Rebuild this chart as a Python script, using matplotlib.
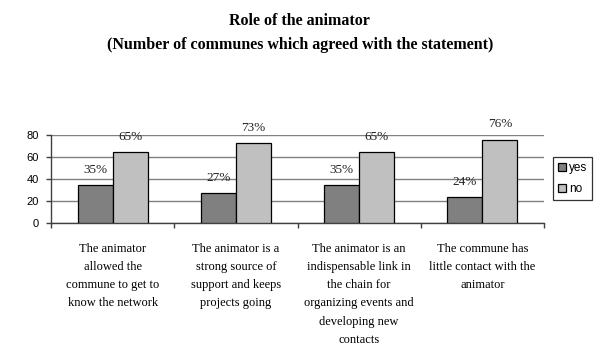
import matplotlib.pyplot as plt
import numpy as np

# statements and share of communes answering yes / no (in %)
categories = ['The animator\nallowed the\ncommune to get to\nknow the network',
              'The animator is a\nstrong source of\nsupport and keeps\nprojects going',
              'The animator is an\nindispensable link in\nthe chain for\norganizing events and\ndeveloping new\ncontacts',
              'The commune has\nlittle contact with the\nanimator']
yes_vals = [35, 27, 35, 24]
no_vals = [65, 73, 65, 76]
y_ticks = [0, 20, 40, 60, 80]

serif = ['Liberation Serif', 'DejaVu Serif']
sans = ['Liberation Sans', 'DejaVu Sans']

fig = plt.figure(figsize=(5.96, 3.47), dpi=100)
ax = fig.add_axes([0.0856, 0.357, 0.8272, 0.2536])

x = np.arange(len(categories))
w = 0.284
b1 = ax.bar(x - w / 2, yes_vals, w, color='#808080', edgecolor='black', linewidth=0.9, label='yes', zorder=3)
b2 = ax.bar(x + w / 2, no_vals, w, color='#c0c0c0', edgecolor='black', linewidth=0.9, label='no', zorder=3)

# percent labels above each bar
for bars in (b1, b2):
    for r in bars:
        ax.annotate('%d%%' % r.get_height(), (r.get_x() + r.get_width() / 2, r.get_height()),
                    xytext=(0, 6.5), textcoords='offset points', ha='center', va='bottom',
                    fontsize=9.5, family=serif, color='#222222')

ax.set_xlim(-0.5, len(categories) - 0.5)
ax.set_ylim(0, 80)
ax.set_yticks(y_ticks)
ax.yaxis.grid(True, color='#808080', linewidth=1, zorder=0)
ax.set_axisbelow(True)

ax.set_xticks(x)
ax.set_xticklabels(categories, family=serif, fontsize=9, linespacing=1.7, va='top')
ax.set_xticks(np.arange(len(categories) + 1) - 0.5, minor=True)
ax.tick_params(axis='x', which='major', length=0, pad=14)
ax.tick_params(axis='x', which='minor', length=3.5, width=1, color='#404040', direction='out')
ax.tick_params(axis='y', length=3.5, width=1, color='#404040', labelsize=8, pad=5)
for lbl in ax.get_yticklabels():
    lbl.set_family(sans)

for s in ('top', 'right'):
    ax.spines[s].set_visible(False)
ax.spines['left'].set_color('#404040')
ax.spines['bottom'].set_color('#404040')
ax.spines['left'].set_linewidth(1)
ax.spines['bottom'].set_linewidth(1)

leg = fig.legend(handles=[b1, b2], loc='center left', bbox_to_anchor=(0.928, 0.486),
                 prop={'family': sans, 'size': 8.5}, frameon=True, fancybox=False,
                 edgecolor='black', handlelength=0.7, handleheight=0.7,
                 handletextpad=0.25, borderpad=0.4, labelspacing=0.75, borderaxespad=0)
leg.get_frame().set_linewidth(0.9)

fig.text(0.503, 0.94, 'Role of the animator', ha='center', va='center',
         fontsize=11.5, fontweight='bold', family=serif)
fig.text(0.503, 0.87, '(Number of communes which agreed with the statement)', ha='center', va='center',
         fontsize=11.5, fontweight='bold', family=serif)

fig.savefig('out.png', dpi=100)
